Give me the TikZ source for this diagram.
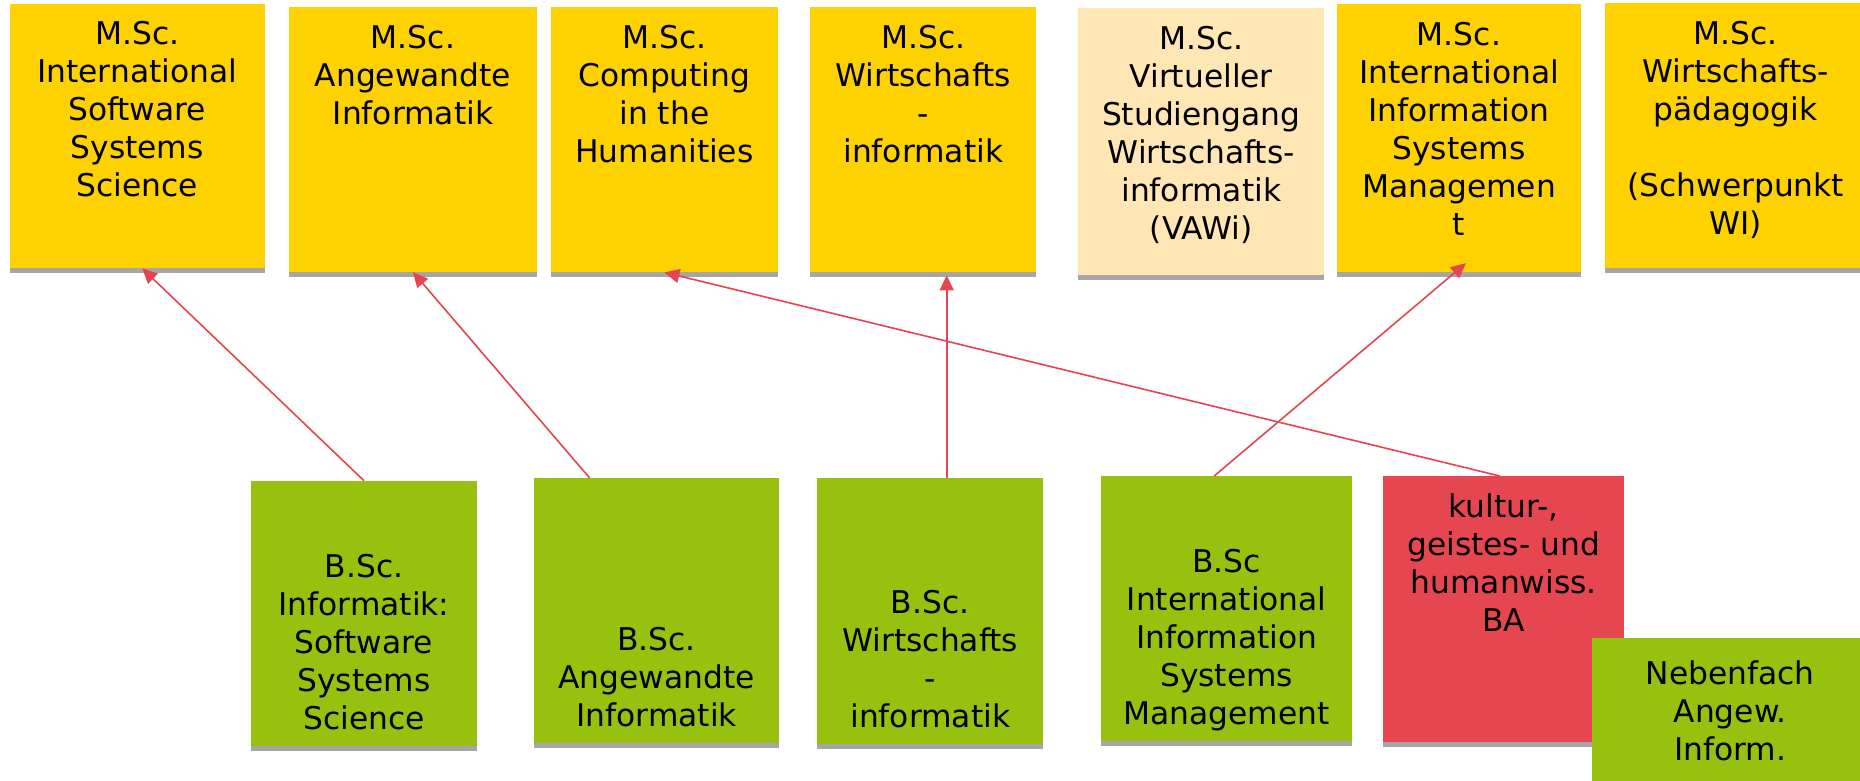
\documentclass[tikz,border=0pt]{standalone}
\usepackage{fontspec}
\setmainfont{DejaVu Sans}
\usepackage{tikz}
\usetikzlibrary{arrows.meta, positioning, shadows}

\definecolor{mscyellow}{HTML}{FED200}
\definecolor{msclight}{HTML}{FFE7B5}
\definecolor{bscgreen}{HTML}{97C00F}
\definecolor{bared}{HTML}{E5464F}
\definecolor{linkred}{HTML}{E54450}
\definecolor{shadowgrey}{HTML}{A6A6A6}

\begin{document}
\begin{tikzpicture}[x=1pt, y=-1pt,
  every node/.style={font=\fontsize{31.3}{38}\selectfont},
  course/.style={anchor=north west, inner sep=0pt,
    drop shadow={shadow xshift=0pt, shadow yshift=-5pt, fill=shadowgrey, opacity=1}},
  master/.style={course, fill=mscyellow},
  bachelor/.style={course, fill=bscgreen},
  caption/.style={inner sep=0pt, align=center},
  link/.style={draw=linkred, line width=1.6pt, -{Triangle[length=15pt, width=14pt]}}]
\useasboundingbox (0,0) rectangle (1860,781);

% Master programmes (top row)
\node[master, minimum width=255, minimum height=264.5] (msse) at (9.5,3.5) {};
\node[master, minimum width=248.5, minimum height=265] (mai) at (288.5,6.7) {};
\node[master, minimum width=226.5, minimum height=265] (mcith) at (551,7) {};
\node[master, minimum width=226, minimum height=265] (mwi) at (810,7) {};
\node[course, fill=msclight, minimum width=246, minimum height=267] (mvawi) at (1078,8) {};
\node[master, minimum width=243.5, minimum height=268] (miism) at (1337,3.7) {};
\node[master, minimum width=261, minimum height=264.7] (mwipaed) at (1605,3.3) {};

\node[caption, below=18pt of msse.north] {M.Sc.\\International\\Software\\Systems\\Science};
\node[caption, below=18pt of mai.north] {M.Sc.\\Angewandte\\Informatik};
\node[caption, below=18pt of mcith.north] {M.Sc.\\Computing\\in the\\Humanities};
\node[caption, below=18pt of mwi.north] {M.Sc.\\Wirtschafts\\-\\informatik};
\node[caption, below=18pt of mvawi.north] {M.Sc.\\Virtueller\\Studiengang\\Wirtschafts-\\informatik\\(VAWi)};
\node[caption, below=18pt of miism.north] {M.Sc.\\International\\Information\\Systems\\Managemen\\t};
\node[caption, below=18pt of mwipaed.north] {M.Sc.\\Wirtschafts-\\pädagogik\\[38pt](Schwerpunkt\\WI)};

% Bachelor programmes (bottom row)
\node[bachelor, minimum width=226.5, minimum height=265.3] (bsse) at (250.5,480.7) {};
\node[bachelor, minimum width=245, minimum height=265] (bai) at (534,478) {};
\node[bachelor, minimum width=226, minimum height=266] (bwi) at (817,478) {};
\node[bachelor, minimum width=251, minimum height=265] (biism) at (1101,476) {};
\node[course, fill=bared, minimum width=241, minimum height=266] (bkgh) at (1383,476) {};
\node[bachelor, minimum width=276, minimum height=160] (bneben) at (1592,638) {};

\node[caption, text depth=0pt, above=17pt of bsse.south] {B.Sc.\\Informatik:\\Software\\Systems\\Science};
\node[caption, text depth=0pt, above=17pt of bai.south] {B.Sc.\\Angewandte\\Informatik};
\node[caption, text depth=0pt, above=17pt of bwi.south] {B.Sc.\\Wirtschafts\\-\\informatik};
\node[caption, text depth=0pt, above=17pt of biism.south] {B.Sc\\International\\Information\\Systems\\Management};
\node[caption, below=18pt of bkgh.north] {kultur-,\\geistes- und\\humanwiss.\\BA};
\node[caption, below=23pt of bneben.north] {Nebenfach\\Angew.\\Inform.};

% Transitions
\draw[link] (bsse.north) -- ([xshift=5]msse.south);
\draw[link] ([xshift=-67]bai.north) -- (mai.south);
\draw[link] ([xshift=16.5]bwi.north) -- ([xshift=23.5, yshift=-3]mwi.south);
\draw[link] ([xshift=-12.5]biism.north) -- ([xshift=7, yshift=9]miism.south);
\draw[link] ([xshift=-4]bkgh.north) -- (mcith.south);
\end{tikzpicture}
\end{document}
